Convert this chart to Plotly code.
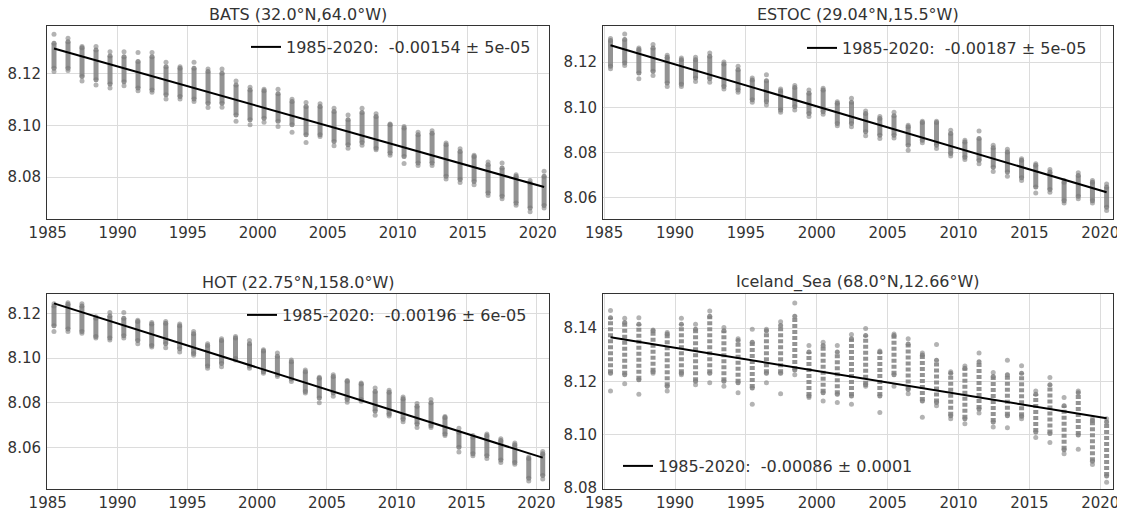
import plotly.graph_objects as go

# ---------------- data ----------------
years = list(range(1985, 2021))

# BATS
bats_top = [8.1354, 8.1338, 8.1306, 8.1306, 8.1286, 8.1286, 8.1283, 8.1283, 8.1245, 8.1228,
            8.1245, 8.1219, 8.1219, 8.1173, 8.1148, 8.1141, 8.1141, 8.1102, 8.1089, 8.1084,
            8.1067, 8.1041, 8.1067, 8.1045, 8.1006, 8.0996, 8.0974, 8.0979, 8.0932, 8.0910,
            8.0884, 8.0858, 8.0854, 8.0809, 8.0786, 8.0822]
bats_hi = [8.1319, 8.1325, 8.1302, 8.1293, 8.1270, 8.1267, 8.1248, 8.1267, 8.1228, 8.1222,
           8.1222, 8.1209, 8.1203, 8.1157, 8.1138, 8.1135, 8.1123, 8.1093, 8.1074, 8.1074,
           8.1054, 8.1022, 8.1050, 8.1035, 8.1003, 8.0990, 8.0964, 8.0970, 8.0925, 8.0899,
           8.0880, 8.0848, 8.0835, 8.0803, 8.0777, 8.0803]
bats_lo = [8.1222, 8.1222, 8.1190, 8.1177, 8.1161, 8.1170, 8.1145, 8.1138, 8.1119, 8.1112,
           8.1103, 8.1086, 8.1086, 8.1041, 8.1022, 8.1028, 8.1016, 8.1003, 8.0964, 8.0964,
           8.0938, 8.0925, 8.0934, 8.0912, 8.0893, 8.0880, 8.0854, 8.0854, 8.0803, 8.0790,
           8.0783, 8.0738, 8.0725, 8.0699, 8.0680, 8.0689]
bats_bot = [8.1209, 8.1213, 8.1173, 8.1157, 8.1145, 8.1154, 8.1135, 8.1129, 8.1103, 8.1103,
            8.1093, 8.1070, 8.1071, 8.1016, 8.1003, 8.1012, 8.0996, 8.0974, 8.0934, 8.0957,
            8.0921, 8.0912, 8.0923, 8.0906, 8.0884, 8.0852, 8.0845, 8.0845, 8.0792, 8.0779,
            8.0770, 8.0728, 8.0716, 8.0690, 8.0665, 8.0680]
bats_trend = [8.1299, 8.0761]
bats_label = "1985-2020:\u00a0 -0.00154 ± 5e-05"

# ESTOC
estoc_top = [8.1304, 8.1324, 8.1262, 8.1277, 8.1230, 8.1218, 8.1221, 8.1240, 8.1200, 8.1181,
             8.1129, 8.1144, 8.1081, 8.1096, 8.1077, 8.1084, 8.1025, 8.1040, 8.0984, 8.0959,
             8.0978, 8.0921, 8.0939, 8.0939, 8.0899, 8.0855, 8.0895, 8.0833, 8.0815, 8.0773,
             8.0751, 8.0725, 8.0677, 8.0711, 8.0677, 8.0662]
estoc_hi = [8.1295, 8.1299, 8.1255, 8.1262, 8.1221, 8.1210, 8.1210, 8.1225, 8.1191, 8.1166,
            8.1121, 8.1117, 8.1073, 8.1087, 8.1062, 8.1077, 8.1018, 8.1022, 8.0973, 8.0951,
            8.0963, 8.0914, 8.0933, 8.0933, 8.0884, 8.0847, 8.0862, 8.0821, 8.0803, 8.0766,
            8.0744, 8.0714, 8.0669, 8.0699, 8.0669, 8.0648]
estoc_lo = [8.1181, 8.1196, 8.1151, 8.1159, 8.1107, 8.1102, 8.1129, 8.1126, 8.1092, 8.1077,
            8.1033, 8.1025, 8.0988, 8.1003, 8.0973, 8.0981, 8.0929, 8.0929, 8.0892, 8.0877,
            8.0877, 8.0833, 8.0855, 8.0833, 8.0796, 8.0780, 8.0766, 8.0736, 8.0714, 8.0689,
            8.0648, 8.0637, 8.0588, 8.0607, 8.0588, 8.0559]
estoc_bot = [8.1170, 8.1185, 8.1126, 8.1141, 8.1092, 8.1092, 8.1114, 8.1111, 8.1081, 8.1067,
             8.1022, 8.1010, 8.0978, 8.0988, 8.0959, 8.0969, 8.0919, 8.0914, 8.0874, 8.0862,
             8.0865, 8.0810, 8.0844, 8.0818, 8.0785, 8.0770, 8.0751, 8.0717, 8.0696, 8.0677,
             8.0622, 8.0625, 8.0578, 8.0596, 8.0578, 8.0544]
estoc_trend = [8.1274, 8.0625]
estoc_label = "1985-2020:\u00a0 -0.00187 ± 5e-05"

# HOT
hot_top = [8.1242, 8.1247, 8.1242, 8.1184, 8.1203, 8.1203, 8.1169, 8.1159, 8.1163, 8.1152,
           8.1119, 8.1064, 8.1086, 8.1096, 8.1078, 8.1037, 8.1023, 8.0991, 8.0947, 8.0914,
           8.0925, 8.0900, 8.0888, 8.0866, 8.0856, 8.0826, 8.0797, 8.0815, 8.0739, 8.0686,
           8.0654, 8.0661, 8.0639, 8.0621, 8.0558, 8.0583]
hot_hi = [8.1232, 8.1240, 8.1232, 8.1178, 8.1188, 8.1178, 8.1163, 8.1152, 8.1155, 8.1144,
          8.1108, 8.1056, 8.1078, 8.1090, 8.1064, 8.1031, 8.1008, 8.0983, 8.0939, 8.0910,
          8.0917, 8.0896, 8.0884, 8.0851, 8.0847, 8.0818, 8.0785, 8.0800, 8.0734, 8.0668,
          8.0646, 8.0654, 8.0632, 8.0613, 8.0551, 8.0573]
hot_lo = [8.1144, 8.1130, 8.1119, 8.1096, 8.1090, 8.1100, 8.1078, 8.1056, 8.1064, 8.1042,
          8.1020, 8.0964, 8.0976, 8.0998, 8.0964, 8.0939, 8.0925, 8.0906, 8.0851, 8.0822,
          8.0844, 8.0815, 8.0815, 8.0763, 8.0749, 8.0727, 8.0705, 8.0698, 8.0661, 8.0602,
          8.0573, 8.0563, 8.0544, 8.0533, 8.0463, 8.0475]
hot_bot = [8.1119, 8.1119, 8.1111, 8.1090, 8.1081, 8.1090, 8.1064, 8.1049, 8.1046, 8.1027,
           8.1012, 8.0954, 8.0961, 8.0991, 8.0954, 8.0932, 8.0917, 8.0895, 8.0844, 8.0800,
           8.0829, 8.0803, 8.0807, 8.0744, 8.0741, 8.0715, 8.0690, 8.0690, 8.0654, 8.0580,
           8.0563, 8.0551, 8.0533, 8.0525, 8.0451, 8.0460]
hot_trend = [8.1244, 8.0555]
hot_label = "1985-2020:\u00a0 -0.00196 ± 6e-05"

# Iceland_Sea
ice_top = [8.1466, 8.1437, 8.1439, 8.1393, 8.1384, 8.1437, 8.1415, 8.1464, 8.1402, 8.1360,
           8.1396, 8.1396, 8.1424, 8.1494, 8.1335, 8.1347, 8.1335, 8.1376, 8.1399, 8.1314,
           8.1378, 8.1360, 8.1307, 8.1339, 8.1237, 8.1258, 8.1307, 8.1234, 8.1280, 8.1259,
           8.1164, 8.1215, 8.1140, 8.1164, 8.1060, 8.1060]
ice_hi = [8.1439, 8.1421, 8.1415, 8.1390, 8.1378, 8.1415, 8.1396, 8.1445, 8.1390, 8.1354,
          8.1347, 8.1390, 8.1410, 8.1445, 8.1311, 8.1335, 8.1311, 8.1360, 8.1372, 8.1311,
          8.1372, 8.1341, 8.1299, 8.1280, 8.1231, 8.1250, 8.1274, 8.1219, 8.1225, 8.1231,
          8.1152, 8.1188, 8.1109, 8.1158, 8.1054, 8.1048]
ice_lo = [8.1231, 8.1225, 8.1207, 8.1237, 8.1182, 8.1231, 8.1201, 8.1231, 8.1201, 8.1195,
          8.1176, 8.1231, 8.1231, 8.1243, 8.1146, 8.1158, 8.1152, 8.1146, 8.1188, 8.1146,
          8.1225, 8.1170, 8.1127, 8.1121, 8.1072, 8.1060, 8.1097, 8.1048, 8.1072, 8.1070,
          8.1011, 8.1005, 8.0944, 8.0999, 8.0901, 8.0846]
ice_bot = [8.1164, 8.1192, 8.1152, 8.1231, 8.1164, 8.1225, 8.1188, 8.1195, 8.1182, 8.1158,
           8.1115, 8.1195, 8.1154, 8.1225, 8.1140, 8.1127, 8.1121, 8.1115, 8.1182, 8.1084,
           8.1182, 8.1154, 8.1066, 8.1109, 8.1060, 8.1042, 8.1082, 8.1029, 8.1027, 8.1060,
           8.0990, 8.0971, 8.0929, 8.0946, 8.0889, 8.0822]
ice_trend = [8.1366, 8.1062]
ice_label = "1985-2020:\u00a0 -0.00086 ± 0.0001"

trend_years = [1985, 2020]

panels = [
    dict(title="BATS (32.0°N,64.0°W)", top=bats_top, hi=bats_hi, lo=bats_lo, bot=bats_bot,
         trend=bats_trend, label=bats_label, yr=[8.0637, 8.1386], yt=[8.08, 8.10, 8.12],
         xr=[1984.95, 2020.8], dash="solid"),
    dict(title="ESTOC (29.04°N,15.5°W)", top=estoc_top, hi=estoc_hi, lo=estoc_lo, bot=estoc_bot,
         trend=estoc_trend, label=estoc_label, yr=[8.0507, 8.1359], yt=[8.06, 8.08, 8.10, 8.12],
         xr=[1984.92, 2020.9], dash="solid"),
    dict(title="HOT (22.75°N,158.0°W)", top=hot_top, hi=hot_hi, lo=hot_lo, bot=hot_bot,
         trend=hot_trend, label=hot_label, yr=[8.0415, 8.1286], yt=[8.06, 8.08, 8.10, 8.12],
         xr=[1984.95, 2020.9], dash="solid"),
    dict(title="Iceland_Sea (68.0°N,12.66°W)", top=ice_top, hi=ice_hi, lo=ice_lo, bot=ice_bot,
         trend=ice_trend, label=ice_label, yr=[8.0797, 8.1528], yt=[8.08, 8.10, 8.12, 8.14],
         xr=[1984.92, 2020.9], dash="4px,2px"),
]

# ---------------- layout geometry ----------------
W, H = 1125, 508
PAGE = 8  # page body margin offsets the figure inside the window


def px(x):
    return (x - PAGE) / W


def py(y):
    return 1 - (y - PAGE) / H


xdoms = [[px(47), px(549)], [px(603), px(1113)]]
ydoms = [[py(219), py(26)], [py(489), py(294)]]
legend_pos = [(px(246), py(47)), (px(802), py(48)), (px(242), py(315)), (px(618), py(466))]

OFF = 0.45  # clusters sit near mid-year
GREY = "rgba(128,128,128,0.85)"
GREY_PT = "rgba(128,128,128,0.6)"
FONT = "DejaVu Sans"
TXT = "#333333"

fig = go.Figure()
layout = dict(width=W, height=H, margin=dict(l=0, r=0, t=0, b=0, autoexpand=False),
              paper_bgcolor="white", plot_bgcolor="white",
              font=dict(family=FONT, size=15, color=TXT), annotations=[])

for i, p in enumerate(panels):
    r, c = divmod(i, 2)
    ax = "" if i == 0 else str(i + 1)
    xa, ya = "x" + ax, "y" + ax
    lg = "legend" if i == 0 else "legend" + str(i + 1)
    xs = [y + OFF for y in years]

    seg_x, seg_y = [], []
    for x, lo, hi in zip(xs, p["lo"], p["hi"]):
        seg_x += [x, x, None]
        seg_y += [lo, hi, None]
    fig.add_trace(go.Scatter(x=seg_x, y=seg_y, mode="lines", xaxis=xa, yaxis=ya,
                             line=dict(color=GREY, width=5, dash=p["dash"]),
                             showlegend=False, hoverinfo="skip"))
    fig.add_trace(go.Scatter(x=xs + xs, y=p["lo"] + p["hi"], mode="markers", xaxis=xa, yaxis=ya,
                             marker=dict(color=GREY, size=5, line=dict(width=0)),
                             showlegend=False, hoverinfo="skip"))
    fig.add_trace(go.Scatter(x=xs + xs, y=p["bot"] + p["top"], mode="markers", xaxis=xa, yaxis=ya,
                             marker=dict(color=GREY_PT, size=5, line=dict(width=0)),
                             showlegend=False, hoverinfo="skip"))
    fig.add_trace(go.Scatter(x=[t + OFF for t in trend_years], y=p["trend"], mode="lines",
                             xaxis=xa, yaxis=ya, line=dict(color="black", width=2),
                             name=p["label"], legend=lg, showlegend=True))

    common = dict(showgrid=True, gridcolor="#dcdcdc", gridwidth=1, zeroline=False,
                  showline=True, mirror=True, linecolor="#333333", linewidth=1,
                  ticks="", automargin=False, tickfont=dict(family=FONT, size=15, color=TXT))
    layout["xaxis" + ax] = dict(domain=xdoms[c], anchor=ya, range=p["xr"],
                                tickvals=[1985, 1990, 1995, 2000, 2005, 2010, 2015, 2020],
                                ticklabelstandoff=0, **common)
    layout["yaxis" + ax] = dict(domain=ydoms[r], anchor=xa, range=p["yr"], tickvals=p["yt"],
                                tickformat=".2f", ticklabelstandoff=2, **common)
    lx, ly = legend_pos[i]
    layout[lg] = dict(x=lx, y=ly, xanchor="left", yanchor="middle", bgcolor="rgba(0,0,0,0)",
                      borderwidth=0, font=dict(family=FONT, size=16, color=TXT),
                      itemwidth=30, tracegroupgap=0)
    layout["annotations"].append(dict(
        text=p["title"], xref="paper", yref="paper",
        x=(xdoms[c][0] + xdoms[c][1]) / 2, y=ydoms[r][1], xanchor="center", yanchor="bottom",
        yshift=0, showarrow=False, font=dict(family=FONT, size=16, color=TXT)))

fig.update_layout(**layout)
fig.write_html("out.html")
